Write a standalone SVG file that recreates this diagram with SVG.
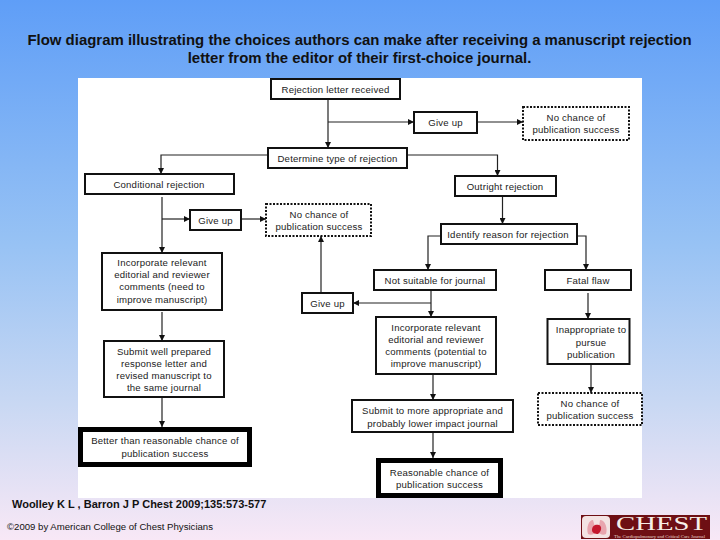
<svg xmlns="http://www.w3.org/2000/svg" width="720" height="540" viewBox="0 0 720 540">
<style>
text{font-family:"Liberation Sans",Arial,sans-serif}
text.s{font-family:"Liberation Serif","Times New Roman",serif}
.t{font-size:9.6px;fill:#222;text-anchor:middle;letter-spacing:.2px}
.b{fill:#fff;stroke:#111;stroke-width:2}
.d{fill:#fff;stroke:#111;stroke-width:2;stroke-dasharray:2 1.5}
.h{fill:#fff;stroke:#000;stroke-width:5}
.c{fill:none;stroke:#222;stroke-width:1.2;marker-end:url(#a)}
.ti{font-size:14.95px;font-weight:bold;fill:#111;text-anchor:middle}
</style>
<defs>
<linearGradient id="bg" x1="0" y1="0" x2="0" y2="1">
<stop offset="0" stop-color="#5f9ef7"/><stop offset=".45" stop-color="#97c2f4"/><stop offset=".75" stop-color="#c9d8f3"/><stop offset="1" stop-color="#f8e8f6"/>
</linearGradient>
<marker id="a" markerWidth="7" markerHeight="6" refX="6" refY="3" orient="auto" markerUnits="userSpaceOnUse"><path d="M0 0L6 3L0 6z" fill="#111"/></marker>
</defs>
<rect width="720" height="540" fill="url(#bg)"/>
<text class="ti" x="359.500" y="45">Flow diagram illustrating the choices authors can make after receiving a manuscript rejection</text>
<text class="ti" x="359.500" y="63">letter from the editor of their first-choice journal.</text>
<rect x="78" y="78" width="564" height="420" fill="#fff"/>
<g id="connectors">
<path class="c" d="M328 99V148"/>
<path class="c" d="M328 122H414"/>
<path class="c" d="M477 122H523"/>
<path class="c" d="M268 155H161V174"/>
<path class="c" d="M407 155H497.500V176"/>
<path class="c" d="M162 197V253"/>
<path class="c" d="M162 219H190"/>
<path class="c" d="M241 219H266"/>
<path class="c" d="M321 293V236"/>
<path class="c" d="M162 312V341"/>
<path class="c" d="M162 397V427"/>
<path class="c" d="M502.500 196V224"/>
<path class="c" d="M441 236H428V270"/>
<path class="c" d="M577 236H586V270"/>
<path class="c" d="M431 290V317"/>
<path class="c" d="M431 303H353"/>
<path class="c" d="M588 293V319"/>
<path class="c" d="M591 364V393"/>
<path class="c" d="M433 374V400"/>
<path class="c" d="M433 433V458"/>
</g>
<g id="n1"><rect class="b" x="271" y="79" width="129" height="20"/><text class="t" x="335.500" y="92.500">Rejection letter received</text></g>
<g id="n2"><rect class="b" x="414" y="112" width="63" height="21"/><text class="t" x="445.500" y="126">Give up</text></g>
<g id="n3"><rect class="d" x="523" y="107" width="106" height="33"/><text class="t" x="576" y="121">No chance of</text><text class="t" x="576" y="133">publication success</text></g>
<g id="n4"><rect class="b" x="268" y="148" width="139" height="20"/><text class="t" x="337.500" y="161.500">Determine type of rejection</text></g>
<g id="n5"><rect class="b" x="85" y="174" width="149" height="20"/><text class="t" x="159" y="187.500">Conditional rejection</text></g>
<g id="n6"><rect class="b" x="455" y="176" width="101" height="20"/><text class="t" x="505" y="189.500">Outright rejection</text></g>
<g id="n7"><rect class="b" x="190" y="210" width="51" height="20"/><text class="t" x="215.500" y="223.500">Give up</text></g>
<g id="n8"><rect class="d" x="266" y="204" width="105" height="32"/><text class="t" x="319" y="217.500">No chance of</text><text class="t" x="319" y="230">publication success</text></g>
<g id="n9"><rect class="b" x="441" y="224" width="136" height="20"/><text class="t" x="508" y="237.500">Identify reason for rejection</text></g>
<g id="n10"><rect class="b" x="102" y="253" width="120" height="57"/><text class="t" x="162" y="266">Incorporate relevant</text><text class="t" x="162" y="278">editorial and reviewer</text><text class="t" x="162" y="290">comments (need to</text><text class="t" x="162" y="302.500">improve manuscript)</text></g>
<g id="n11"><rect class="b" x="374" y="270" width="122" height="20"/><text class="t" x="435" y="284">Not suitable for journal</text></g>
<g id="n12"><rect class="b" x="545" y="270" width="86" height="20"/><text class="t" x="588" y="284">Fatal flaw</text></g>
<g id="n13"><rect class="b" x="302" y="293" width="51" height="20"/><text class="t" x="327.500" y="307">Give up</text></g>
<g id="n14"><rect class="b" x="376" y="317" width="120" height="57"/><text class="t" x="436" y="331">Incorporate relevant</text><text class="t" x="436" y="343">editorial and reviewer</text><text class="t" x="436" y="355">comments (potential to</text><text class="t" x="436" y="367">improve manuscript)</text></g>
<g id="n15"><rect class="b" x="547.500" y="319" width="82" height="45"/><text class="t" x="591" y="333">Inappropriate to</text><text class="t" x="591" y="345.500">pursue</text><text class="t" x="591" y="358">publication</text></g>
<g id="n16"><rect class="b" x="104" y="341" width="120" height="56"/><text class="t" x="164" y="355">Submit well prepared</text><text class="t" x="164" y="367">response letter and</text><text class="t" x="164" y="379">revised manuscript to</text><text class="t" x="164" y="391">the same journal</text></g>
<g id="n17"><rect class="d" x="538" y="393" width="104" height="32"/><text class="t" x="590" y="407">No chance of</text><text class="t" x="590" y="419">publication success</text></g>
<g id="n18"><rect class="b" x="352" y="400" width="161" height="32"/><text class="t" x="432.500" y="414">Submit to more appropriate and</text><text class="t" x="432.500" y="427">probably lower impact journal</text></g>
<g id="n19"><rect class="h" x="80.500" y="429.500" width="169" height="35"/><text class="t" x="165" y="444">Better than reasonable chance of</text><text class="t" x="165" y="456.500">publication success</text></g>
<g id="n20"><rect class="h" x="378.500" y="460.500" width="122" height="35"/><text class="t" x="439.500" y="475.500">Reasonable chance of</text><text class="t" x="439.500" y="487.500">publication success</text></g>
<text x="12" y="508" font-size="11" font-weight="bold" fill="#111">Woolley K L , Barron J P Chest 2009;135:573-577</text>
<text x="7" y="530" font-size="9.600" fill="#111">©2009 by American College of Chest Physicians</text>
<g id="logo">
<rect x="581" y="515" width="129" height="24" fill="#6e0f14"/>
<rect x="582" y="516" width="28" height="22" rx="4" fill="#f3e3e3"/>
<path d="M588 534C586 527 589 520 593 520L595 527L599 527L600 520C605 520 608 528 606 534C602 536 600 533 597 533C594 533 592 536 588 534Z" fill="#e8a5ae"/>
<path d="M592 530C592 525 596 524 599 525C602 526 602 531 598 534C595 534 592 533 592 530Z" fill="#c4182e"/>
<text class="s" x="616" y="530" font-size="19" fill="#f6efe8" textLength="91" lengthAdjust="spacingAndGlyphs">CHEST</text>
<text class="s" x="614" y="538" font-size="3.800" fill="#e8d8d0" textLength="91" lengthAdjust="spacingAndGlyphs">The Cardiopulmonary and Critical Care Journal</text>
</g>
</svg>
